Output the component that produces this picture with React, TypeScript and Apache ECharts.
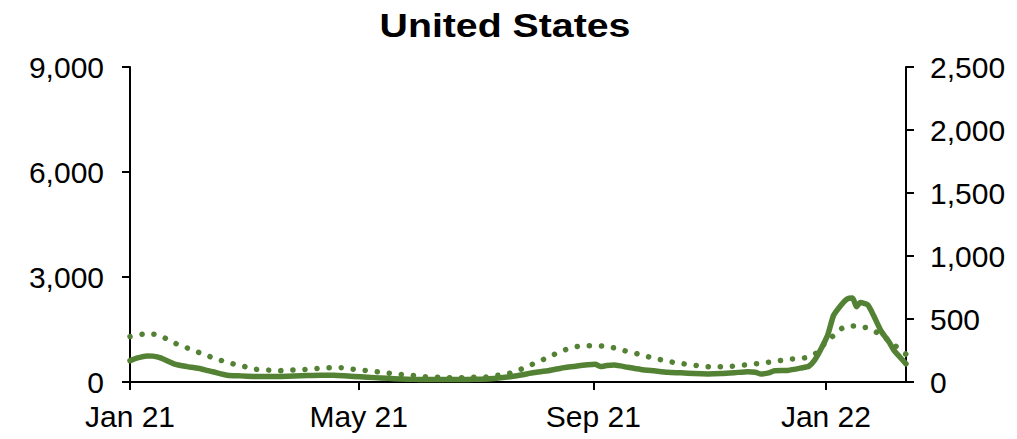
import React, { useEffect, useRef } from "react";
import * as echarts from "echarts";

// Days since 1 Jan 2021
const caseDays = [0, 4, 9, 12, 16, 23, 30, 37, 41, 44, 51, 58, 65, 72, 79, 86, 93, 100, 107, 114, 121, 128, 135, 142, 149, 156, 163, 170, 177, 184, 191, 198, 205, 212, 219, 226, 233, 240, 244, 247, 250, 254, 261, 268, 275, 282, 289, 296, 303, 310, 317, 324, 328, 331, 335, 338, 345, 352, 356, 359, 362, 366, 369, 373, 376, 379, 381, 383, 387, 390, 394, 398, 401, 404, 407];
const cases = [610, 690, 745, 740, 690, 520, 440, 380, 324, 285, 195, 175, 160, 155, 160, 170, 185, 195, 190, 170, 150, 125, 105, 85, 75, 70, 70, 70, 72, 80, 100, 140, 200, 270, 320, 395, 445, 490, 505, 440, 470, 485, 420, 360, 320, 280, 262, 240, 230, 240, 265, 295, 280, 229, 260, 320, 330, 400, 450, 620, 900, 1350, 1900, 2200, 2370, 2400, 2150, 2270, 2200, 1900, 1450, 1150, 880, 700, 520];

const hospDays = [0, 7, 12, 17, 23, 29, 35, 41, 47, 53, 59, 65, 72, 78, 85, 91, 97, 104, 110, 116, 122, 129, 135, 141, 148, 154, 161, 167, 173, 180, 187, 193, 199, 205, 211, 217, 223, 229, 235, 241, 248, 254, 260, 267, 273, 279, 285, 291, 298, 304, 311, 317, 324, 330, 336, 343, 349, 355, 362, 364, 369, 374, 380, 386, 392, 397, 402, 407];
const hospitalised = [360, 379, 380, 358, 312, 276, 241, 206, 175, 148, 127, 103, 95, 90, 95, 98, 106, 114, 114, 103, 93, 82, 71, 61, 53, 42, 37, 34, 34, 37, 40, 53, 69, 101, 140, 180, 222, 260, 283, 288, 286, 270, 246, 220, 196, 175, 156, 143, 129, 121, 121, 127, 137, 148, 159, 175, 185, 196, 250, 299, 368, 431, 445, 431, 391, 341, 280, 220];

const tickDays = [0, 120, 243, 365];
const tickLabels = ["Jan 21", "May 21", "Sep 21", "Jan 22"];
const titleText = "United States";

const GREEN = "#548235";
const FONT = "'Liberation Sans', Arial, sans-serif";

export default function App() {
  const ref = useRef<HTMLDivElement>(null);
  useEffect(() => {
    document.body.style.margin = "0";
    const chart = echarts.init(ref.current!, null, { renderer: "svg" });
    const axisLine = { show: true, lineStyle: { color: "#000", width: 2 } };
    const label = { color: "#000", fontSize: 30, fontFamily: FONT };
    chart.setOption({
      animation: false,
      graphic: [
        {
          type: "text",
          x: 505,
          y: 26,
          scaleX: 1.19,
          style: {
            text: titleText,
            fontSize: 33,
            fontWeight: "bold",
            fontFamily: FONT,
            fill: "#000",
            align: "center",
            verticalAlign: "middle",
          },
        },
      ],
      grid: { left: 130, right: 111, top: 67, bottom: 57 },
      xAxis: {
        type: "value",
        min: 0,
        max: 407,
        axisLine: { ...axisLine, onZero: false },
        axisTick: { show: true, customValues: tickDays, length: 8, lineStyle: { color: "#000", width: 2 } },
        axisLabel: {
          ...label,
          margin: 19,
          customValues: tickDays,
          formatter: (v: number) => {
            const i = tickDays.indexOf(Math.round(v));
            return i >= 0 ? tickLabels[i] : "";
          },
        },
        splitLine: { show: false },
      },
      yAxis: [
        {
          type: "value",
          min: 0,
          max: 9000,
          interval: 3000,
          axisLine,
          axisTick: { show: true, length: 8, lineStyle: { color: "#000", width: 2 } },
          axisLabel: { ...label, margin: 26, formatter: (v: number) => v.toLocaleString("en-US") },
          splitLine: { show: false },
        },
        {
          type: "value",
          min: 0,
          max: 2500,
          interval: 500,
          position: "right",
          axisLine,
          axisTick: { show: true, length: 8, lineStyle: { color: "#000", width: 2 } },
          axisLabel: { ...label, margin: 24, formatter: (v: number) => v.toLocaleString("en-US") },
          splitLine: { show: false },
        },
      ],
      series: [
        {
          type: "line",
          yAxisIndex: 1,
          data: hospDays.map((d, i) => [d, hospitalised[i]]),
          showSymbol: false,
          smooth: 0.3,
          lineStyle: { color: GREEN, width: 5.5, type: [0.1, 12], cap: "round" },
          z: 2,
        },
        {
          type: "line",
          yAxisIndex: 0,
          data: caseDays.map((d, i) => [d, cases[i]]),
          showSymbol: false,
          smooth: 0.2,
          lineStyle: { color: GREEN, width: 5.5, cap: "round", join: "round" },
          z: 3,
        },
      ],
    });
    return () => chart.dispose();
  }, []);
  return <div ref={ref} style={{ width: 1017, height: 439 }} />;
}
